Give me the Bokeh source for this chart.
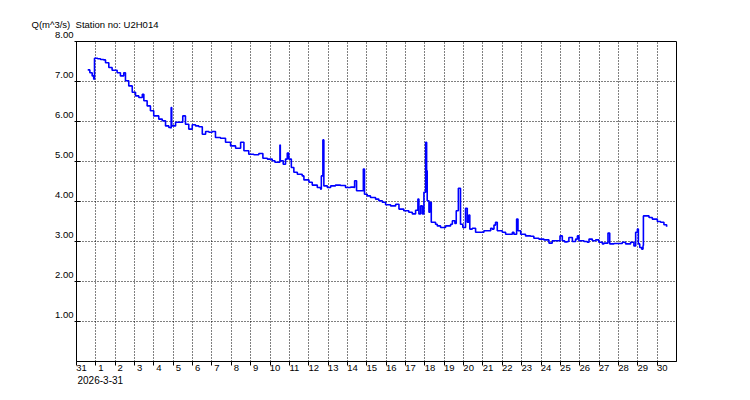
from bokeh.plotting import figure
from bokeh.models import FixedTicker, Range1d, LinearAxis, CustomJSTickFormatter, Title
from bokeh.embed import file_html
from bokeh.resources import INLINE

# Time in days since 2026-03-31 00:00, discharge Q in m^3/s
t_days = [0.58, 0.69, 0.81, 0.89, 0.92, 0.93, 1.09, 1.24, 1.40, 1.50, 1.67, 1.84, 2.10, 2.27, 2.44,
          2.53, 2.70, 2.88, 3.05, 3.22, 3.40, 3.48, 3.65, 3.82, 3.99, 4.25, 4.43, 4.60, 4.77, 4.87,
          4.89, 4.92, 5.12, 5.29, 5.49, 5.63, 5.80, 5.98, 6.15, 6.32, 6.50, 6.67, 6.84, 7.01, 7.18,
          7.44, 7.70, 7.96, 8.22, 8.48, 8.65, 8.90, 9.16, 9.42, 9.63, 9.86, 10.11, 10.25, 10.49, 10.51,
          10.53, 10.68, 10.80, 10.89, 10.97, 11.10, 11.23, 11.41, 11.66, 11.75, 12.01, 12.18, 12.44, 12.61, 12.65,
          12.73, 12.78, 12.96, 13.13, 13.38, 13.64, 13.90, 14.16, 14.33, 14.37, 14.47, 14.68, 14.82, 14.88, 15.02,
          15.19, 15.45, 15.62, 15.80, 15.97, 16.23, 16.49, 16.66, 16.91, 17.17, 17.35, 17.52, 17.64, 17.69, 17.78,
          17.87, 17.95, 18.04, 18.09, 18.12, 18.21, 18.26, 18.33, 18.55, 18.64, 18.81, 19.07, 19.33, 19.42, 19.55,
          19.62, 19.73, 19.84, 19.96, 20.10, 20.19, 20.27, 20.32, 20.45, 20.62, 20.88, 21.05, 21.31, 21.40, 21.48,
          21.57, 21.65, 21.74, 22.00, 22.17, 22.52, 22.60, 22.74, 22.81, 22.95, 23.20, 23.46, 23.63, 23.89, 24.15,
          24.41, 24.58, 24.75, 24.98, 25.10, 25.22, 25.36, 25.44, 25.62, 25.79, 25.88, 25.96, 26.22, 26.39, 26.48,
          26.65, 26.82, 26.99, 27.17, 27.25, 27.46, 27.55, 27.77, 28.03, 28.20, 28.37, 28.63, 28.80, 28.89, 28.98,
          29.03, 29.10, 29.20, 29.27, 29.29, 29.49, 29.58, 29.75, 30.01, 30.18, 30.35, 30.49]
q_values = [7.29, 7.22, 7.14, 7.06, 7.06, 7.58, 7.57, 7.55, 7.54, 7.47, 7.35, 7.28, 7.22, 7.14, 7.22,
            7.02, 6.89, 6.73, 6.64, 6.60, 6.68, 6.52, 6.39, 6.27, 6.14, 6.06, 6.02, 5.89, 5.85, 5.84,
            6.35, 5.89, 5.98, 5.98, 6.14, 5.93, 5.81, 5.92, 5.89, 5.87, 5.68, 5.75, 5.73, 5.75, 5.60,
            5.58, 5.48, 5.39, 5.33, 5.48, 5.27, 5.18, 5.17, 5.20, 5.08, 5.06, 5.02, 4.98, 4.98, 5.41,
            5.02, 4.93, 5.06, 5.21, 5.06, 4.85, 4.73, 4.68, 4.64, 4.54, 4.48, 4.41, 4.35, 4.31, 4.64,
            5.54, 4.39, 4.35, 4.39, 4.41, 4.40, 4.35, 4.36, 4.35, 4.52, 4.27, 4.27, 4.81, 4.18, 4.14,
            4.10, 4.06, 4.02, 3.98, 3.92, 3.89, 3.93, 3.81, 3.77, 3.73, 3.69, 3.78, 4.06, 3.69, 3.89,
            3.69, 4.23, 5.48, 4.77, 4.02, 3.73, 3.98, 3.48, 3.43, 3.39, 3.35, 3.39, 3.43, 3.52, 3.45,
            3.77, 4.33, 3.43, 3.35, 3.83, 3.48, 3.66, 3.31, 3.33, 3.23, 3.23, 3.27, 3.27, 3.33, 3.31,
            3.41, 3.48, 3.27, 3.23, 3.18, 3.23, 3.18, 3.56, 3.27, 3.18, 3.14, 3.13, 3.08, 3.06, 3.04,
            2.96, 3.02, 3.02, 3.14, 3.02, 2.99, 3.00, 3.10, 3.00, 3.06, 3.14, 3.02, 3.00, 2.98, 3.06,
            3.02, 3.04, 2.98, 2.94, 2.96, 3.21, 2.94, 2.95, 2.95, 2.98, 2.94, 2.98, 2.89, 3.23, 3.31,
            2.94, 2.85, 2.81, 2.90, 3.64, 3.64, 3.60, 3.56, 3.50, 3.48, 3.42, 3.37]

day_ticks = list(range(0, 31))
day_labels = ["31"] + [str(d) for d in range(1, 31)]
q_ticks = [1, 2, 3, 4, 5, 6, 7, 8]
q_labels = ["1.00", "2.00", "3.00", "4.00", "5.00", "6.00", "7.00", "8.00"]
start_date_label = "2026-3-31"
y_title = "Q(m^3/s)"
station_title = "Station no: U2H014"

FONT = "Liberation Sans"
FS = "9.5px"
LABEL_SHIFT = 0.26  # days: day labels sit just right of their tick

p = figure(frame_width=600, frame_height=320,
           x_range=Range1d(0, 31), y_range=Range1d(0, 8),
           output_backend="svg", toolbar_location=None,
           min_border_left=76, min_border_right=66, min_border_top=41, min_border_bottom=37)
p.background_fill_color = "white"
p.border_fill_color = "white"
p.outline_line_color = "black"
p.outline_line_width = 1
p.outline_line_alpha = 1

# grids
p.xgrid.ticker = FixedTicker(ticks=day_ticks[1:])
p.ygrid.ticker = FixedTicker(ticks=q_ticks[:-1])
for g in (p.xgrid, p.ygrid):
    g.grid_line_color = "black"
    g.grid_line_dash = "1 2"
    g.grid_line_width = 1
    g.grid_line_alpha = 1

# bottom axis: tick marks only
xa = p.xaxis[0]
xa.ticker = FixedTicker(ticks=day_ticks)
xa.major_label_overrides = {t: "" for t in day_ticks}
xa.major_label_text_font_size = "0px"
xa.major_label_standoff = 0
xa.major_tick_in = 0
xa.major_tick_out = 4
xa.minor_tick_line_color = None
xa.axis_line_color = "black"
xa.major_tick_line_color = "black"

# second bottom axis: day labels placed just right of each tick
xl = LinearAxis(ticker=FixedTicker(ticks=[d + LABEL_SHIFT for d in day_ticks]),
                formatter=CustomJSTickFormatter(args=dict(labels=day_labels),
                                                code="return labels[Math.round(tick)];"),
                axis_line_color=None, major_tick_line_color=None, minor_tick_line_color=None,
                major_tick_out=0, major_tick_in=0, major_label_standoff=-1,
                major_label_text_font=FONT, major_label_text_font_size=FS,
                major_label_text_color="black")
p.add_layout(xl, "below")

# date under the first tick
p.add_layout(Title(text=start_date_label, align="left", offset=1, standoff=0,
                   text_font=FONT, text_font_size="10px", text_font_style="normal",
                   text_color="black"), "below")

# left axis (labels sit a little above their tick, as in the reference)
ya = p.yaxis[0]
ya.ticker = FixedTicker(ticks=q_ticks)
ya.major_label_overrides = {v: lab + "\n" for v, lab in zip(q_ticks, q_labels)}
ya.major_tick_in = 4
ya.major_tick_out = 2
ya.major_label_standoff = 1
ya.major_label_text_font = FONT
ya.major_label_text_font_size = FS
ya.major_label_text_color = "black"
ya.minor_tick_line_color = None
ya.axis_line_color = "black"
ya.major_tick_line_color = "black"

# data line
p.step(t_days, q_values, mode="after", line_color="#0000FF", line_width=1.6)

# titles (unit of Q to the left of the frame, station right after it)
p.add_layout(Title(text=y_title + "\u00a0\u00a0" + station_title, align="left", offset=-45,
                   standoff=23, text_font=FONT, text_font_size="9.5px",
                   text_font_style="normal", text_color="black"), "above")

open("out.html", "w").write(file_html(p, INLINE))
